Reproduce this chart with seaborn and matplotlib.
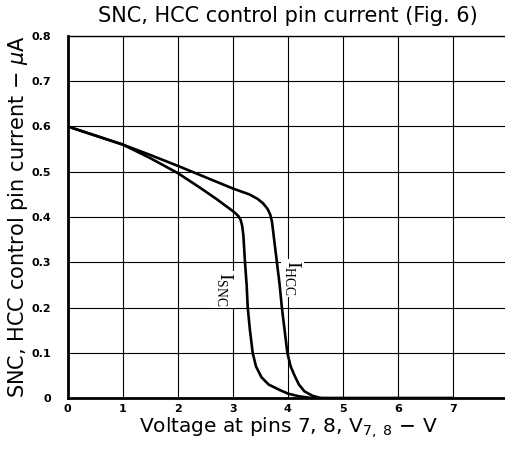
import matplotlib
matplotlib.use("Agg")
import matplotlib.pyplot as plt
import seaborn as sns
import pandas as pd

# datos (V, uA)
hcc_v = [0.0, 0.5, 1.0, 1.5, 2.0, 2.5, 3.0, 3.3, 3.45, 3.55, 3.63, 3.68, 3.71, 3.73,
         3.76, 3.80, 3.85, 3.89, 3.94, 3.99, 4.05, 4.12, 4.2, 4.3, 4.45, 4.6, 7.0]
hcc_i = [0.60, 0.58, 0.56, 0.537, 0.513, 0.488, 0.463, 0.45, 0.44, 0.43, 0.418, 0.405,
         0.39, 0.37, 0.34, 0.30, 0.25, 0.20, 0.15, 0.10, 0.07, 0.05, 0.03, 0.015, 0.005,
         0.0, 0.0]

snc_v = [0.0, 0.5, 1.0, 1.5, 2.0, 2.4, 2.7, 3.0, 3.05, 3.1, 3.14, 3.17, 3.19, 3.22,
         3.25, 3.27, 3.31, 3.36, 3.42, 3.52, 3.65, 3.85, 4.0, 4.2, 4.45, 7.0]
snc_i = [0.60, 0.58, 0.56, 0.53, 0.497, 0.465, 0.44, 0.413, 0.408, 0.402, 0.394, 0.38,
         0.36, 0.30, 0.25, 0.20, 0.15, 0.10, 0.07, 0.046, 0.03, 0.018, 0.01, 0.004, 0.0, 0.0]

x_ticks = [0, 1, 2, 3, 4, 5, 6, 7, 8]
y_ticks = [0, 0.1, 0.2, 0.3, 0.4, 0.5, 0.6, 0.7, 0.8]
y_tick_labels = ["0", "0.1", "0.2", "0.3", "0.4", "0.5", "0.6", "0.7", "0.8"]

df = pd.concat([
    pd.DataFrame({"v": hcc_v, "i": hcc_i, "curva": "HCC"}),
    pd.DataFrame({"v": snc_v, "i": snc_i, "curva": "SNC"}),
])

sns.set_theme(style="white")
plt.rcParams['font.family'] = ['DejaVu Sans']
plt.rcParams['text.color'] = 'black'
plt.rcParams['axes.labelcolor'] = 'black'
plt.rcParams['xtick.color'] = 'black'
plt.rcParams['ytick.color'] = 'black'

fig = plt.figure(figsize=(5.06, 4.55), dpi=100)
ax = fig.add_axes([0.134, 0.125, 0.870, 0.796])

sns.lineplot(data=df, x="v", y="i", units="curva", estimator=None, sort=False,
             color="black", linewidth=1.9, ax=ax, legend=False)

ax.set_xlim(0, 8)
ax.set_ylim(0, 0.8)
ax.set_xticks(x_ticks)
ax.set_yticks(y_ticks)
ax.set_yticklabels(y_tick_labels)
ax.grid(True, color="black", linewidth=0.8)
ax.tick_params(length=0, labelsize=8)
ax.tick_params(axis="y", pad=12)
ax.tick_params(axis="x", pad=4)
for lab in ax.get_xticklabels() + ax.get_yticklabels():
    lab.set_fontweight("bold")

for side in ["left", "bottom"]:
    ax.spines[side].set_color("black")
    ax.spines[side].set_linewidth(2)
for side in ["top", "right"]:
    ax.spines[side].set_color("black")
    ax.spines[side].set_linewidth(1)

# etiquetas de las curvas (debajo de las lineas, encima de la rejilla)
lbl = dict(rotation=-90, fontsize=14, family="Liberation Serif", ha="center", va="center",
           zorder=1.5, bbox=dict(facecolor="white", edgecolor="none", pad=1))
ax.text(2.85, 0.24, r"I$_{\mathregular{SNC}}$", **lbl)
ax.text(4.08, 0.265, r"I$_{\mathregular{HCC}}$", **lbl)

ax.set_title("SNC, HCC control pin current (Fig. 6)", fontsize=15, pad=10)
ax.set_xlabel(r"Voltage at pins 7, 8, V$_{\mathregular{7,\ 8}}$ $-$ V", fontsize=14.5, labelpad=1)
ax.set_ylabel(r"SNC, HCC control pin current $-$ $\mu$A", fontsize=15, labelpad=1)

plt.savefig("out.png", dpi=100)
plt.close()
